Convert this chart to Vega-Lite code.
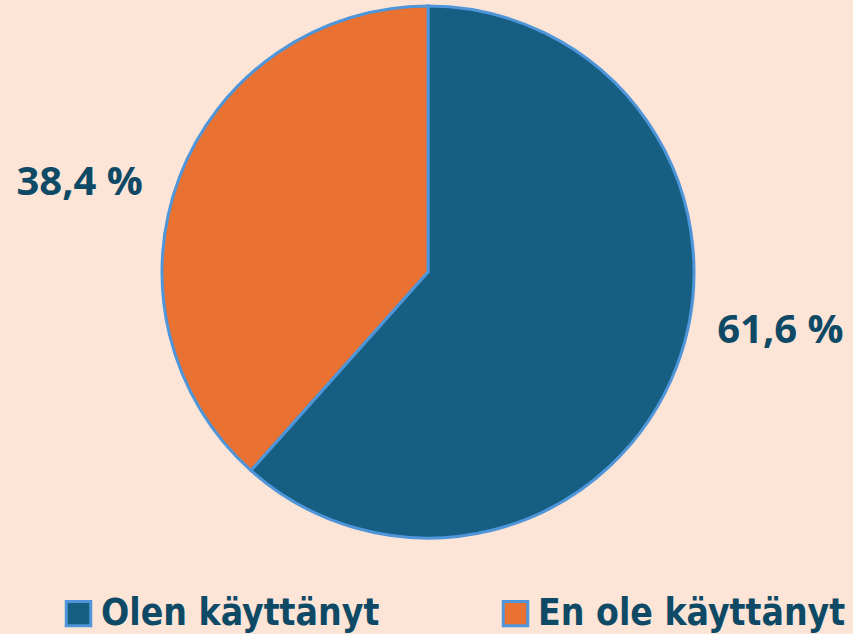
{
  "$schema": "https://vega.github.io/schema/vega-lite/v6.json",
  "autosize": "none",
  "width": 856,
  "height": 544,
  "padding": {"left": 0, "top": 0, "right": 0, "bottom": 90},
  "background": "#FCE4D6",
  "config": {"view": {"stroke": null}},
  "data": {"values": [
    {"kategoria": "Olen käyttänyt", "osuus": 61.6, "teksti": "61,6 %", "jarjestys": 1},
    {"kategoria": "En ole käyttänyt", "osuus": 38.4, "teksti": "38,4 %", "jarjestys": 2}
  ]},
  "transform": [
    {"stack": "osuus", "groupby": [], "as": ["alku", "loppu"], "sort": [{"field": "jarjestys", "order": "ascending"}]},
    {"calculate": "(datum.alku + datum.loppu) / 2", "as": "keski"}
  ],
  "layer": [
    {
      "mark": {"type": "arc", "outerRadius": 266, "stroke": "#4E95D9", "strokeWidth": 3},
      "encoding": {
        "theta": {"field": "alku", "type": "quantitative", "scale": {"domain": [0, 100]}, "stack": null},
        "theta2": {"field": "loppu"},
        "color": {
          "field": "kategoria", "type": "nominal",
          "sort": ["Olen käyttänyt", "En ole käyttänyt"],
          "scale": {"domain": ["Olen käyttänyt", "En ole käyttänyt"], "range": ["#175F82", "#E97132"]},
          "legend": {
            "title": null, "orient": "none", "direction": "horizontal",
            "legendX": 60, "legendY": 595,
            "labelFont": "DejaVu Sans Condensed", "labelFontWeight": "bold",
            "labelFontSize": 37, "labelColor": "#0E4A66",
            "symbolType": "square", "symbolSize": 600,
            "symbolStrokeColor": "#4E95D9", "symbolStrokeWidth": 3,
            "columnPadding": 117, "labelOffset": 4, "labelLimit": 400
          }
        }
      }
    },
    {
      "transform": [{"filter": "datum.jarjestys == 1"}],
      "mark": {"type": "text", "radius": 360, "font": "Open Sans", "fontWeight": "bold", "fontSize": 40, "color": "#0E4A66", "dx": 16, "dy": -69, "baseline": "middle"},
      "encoding": {
        "theta": {"field": "keski", "type": "quantitative", "scale": {"domain": [0, 100]}, "stack": null},
        "text": {"field": "teksti"}
      }
    },
    {
      "transform": [{"filter": "datum.jarjestys == 2"}],
      "mark": {"type": "text", "radius": 360, "font": "Open Sans", "fontWeight": "bold", "fontSize": 40, "color": "#0E4A66", "dx": -12, "dy": 39, "baseline": "middle"},
      "encoding": {
        "theta": {"field": "keski", "type": "quantitative", "scale": {"domain": [0, 100]}, "stack": null},
        "text": {"field": "teksti"}
      }
    }
  ]
}
